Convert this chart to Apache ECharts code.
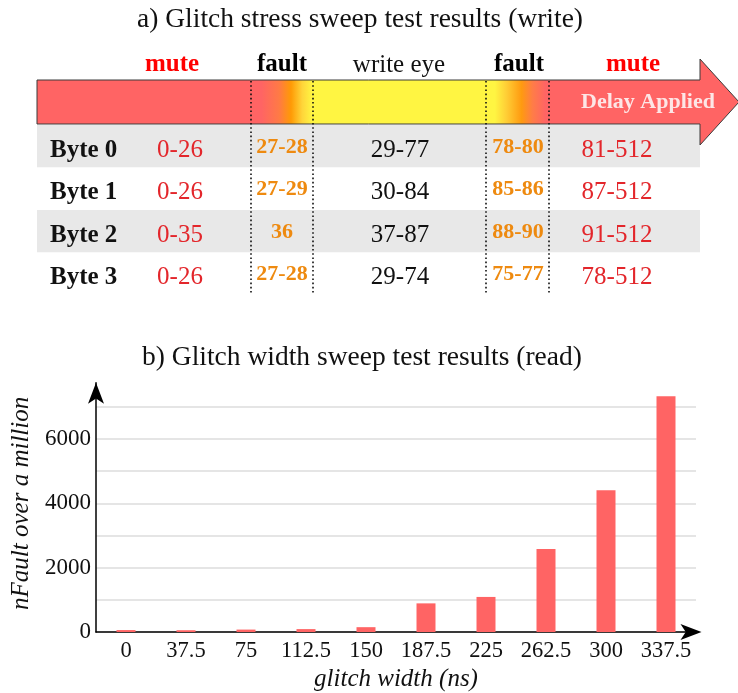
<!DOCTYPE html>
<html>
<head>
<meta charset="utf-8">
<script src="https://cdn.jsdelivr.net/npm/echarts@6/dist/echarts.min.js"></script>
<style>
  html, body { margin: 0; padding: 0; background: #ffffff; }
  #chart { width: 738px; height: 693px; }
</style>
</head>
<body>
<div id="chart"></div>
<script>
// ---- Panel a: write-delay windows per byte lane ----
const bytes      = ['Byte 0', 'Byte 1', 'Byte 2', 'Byte 3'];
const muteLow    = ['0-26', '0-26', '0-35', '0-26'];
const faultLow   = ['27-28', '27-29', '36', '27-28'];
const writeEye   = ['29-77', '30-84', '37-87', '29-74'];
const faultHigh  = ['78-80', '85-86', '88-90', '75-77'];
const muteHigh   = ['81-512', '87-512', '91-512', '78-512'];
const zoneHeaders = ['mute', 'fault', 'write eye', 'fault', 'mute'];

// ---- Panel b: faults per million vs glitch width ----
const glitchWidths = ['0', '37.5', '75', '112.5', '150', '187.5', '225', '262.5', '300', '337.5'];
const nFault       = [60, 55, 75, 90, 150, 890, 1090, 2580, 4410, 7330];
const yTickLabels  = [0, 2000, 4000, 6000];

// ---- layout / style ----
const SERIF = '"Liberation Serif", "Times New Roman", serif';
const RED_CELL = '#e3262b';
const ORANGE = '#ee8a10';
const BAR_RED = '#ff6464';

// column anchors inside the table grid (grid-local pixels)
const COL = { bytes: 13, muteLow: 143, faultLow: 245, writeEye: 363, faultHigh: 481, muteHigh: 580 };
// header centres and dotted separators (page pixels)
const HEADER_X = [172, 282, 399, 519, 633];
const HEADER_STYLE = [
  { fill: '#ff0000', fontWeight: 'bold' },
  { fill: '#000000', fontWeight: 'bold' },
  { fill: '#111111', fontWeight: 'normal' },
  { fill: '#000000', fontWeight: 'bold' },
  { fill: '#ff0000', fontWeight: 'bold' }
];
const DOT_X = [251, 313, 486, 549];

function cellSeries(values, x, color, weight, size, dy, align) {
  return {
    type: 'scatter',
    xAxisIndex: 1,
    yAxisIndex: 1,
    silent: true,
    symbolSize: 1,
    itemStyle: { color: 'rgba(0,0,0,0)', opacity: 1 },
    data: values.map((v, i) => [x, i, v]),
    label: {
      show: true,
      position: 'inside',
      align: align || 'center',
      offset: [0, dy],
      formatter: p => p.value[2],
      fontFamily: SERIF,
      fontSize: size,
      fontWeight: weight,
      color: color,
      opacity: 1
    },
    z: 5
  };
}

const arrowFill = {
  type: 'linear', x: 0, y: 0, x2: 1, y2: 0,
  colorStops: [
    { offset: 0.000, color: '#ff6464' },
    { offset: 0.320, color: '#ff6464' },
    { offset: 0.345, color: '#ff7a45' },
    { offset: 0.362, color: '#ff9a05' },
    { offset: 0.378, color: '#ffd53a' },
    { offset: 0.392, color: '#fff542' },
    { offset: 0.652, color: '#fff542' },
    { offset: 0.668, color: '#ffcf36' },
    { offset: 0.690, color: '#ff9a10' },
    { offset: 0.706, color: '#ff7c48' },
    { offset: 0.724, color: '#ff6464' },
    { offset: 1.000, color: '#ff6464' }
  ]
};

const graphics = [
  {
    type: 'polygon',
    z: 100,
    shape: { points: [[37, 80], [700, 80], [700, 59], [739, 102], [700, 145], [700, 124], [37, 124]] },
    style: { fill: arrowFill, stroke: '#3a3a3a', lineWidth: 1 }
  },
  {
    type: 'text',
    z: 101,
    x: 648, y: 102,
    style: {
      text: 'Delay Applied', fill: '#fde6e6', font: 'bold 22px ' + SERIF,
      textAlign: 'center', textVerticalAlign: 'middle'
    }
  }
];
DOT_X.forEach(x => graphics.push({
  type: 'line', z: 102,
  shape: { x1: x, y1: 81, x2: x, y2: 295 },
  style: { stroke: '#111', lineWidth: 1.6, lineDash: [1.6, 2.6] }
}));
zoneHeaders.forEach((t, i) => graphics.push({
  type: 'text', z: 102,
  x: HEADER_X[i], y: 65,
  style: {
    text: t, fill: HEADER_STYLE[i].fill,
    font: HEADER_STYLE[i].fontWeight + ' 25px ' + SERIF,
    textAlign: 'center', textVerticalAlign: 'middle'
  }
}));

const option = {
  backgroundColor: '#ffffff',
  animation: false,
  title: [
    {
      text: 'a) Glitch stress sweep test results (write)',
      left: 360, textAlign: 'center', top: 6, padding: 0,
      textStyle: { fontFamily: SERIF, fontSize: 27.5, fontWeight: 'normal', color: '#111' }
    },
    {
      text: 'b) Glitch width sweep test results (read)',
      left: 362, textAlign: 'center', top: 344, padding: 0,
      textStyle: { fontFamily: SERIF, fontSize: 27.5, fontWeight: 'normal', color: '#111' }
    }
  ],
  graphic: graphics,
  grid: [
    { left: 96, right: 42, top: 382.7, bottom: 61, containLabel: false },
    { left: 37, right: 38, top: 125, height: 170, containLabel: false }
  ],
  xAxis: [
    {
      type: 'category',
      gridIndex: 0,
      data: glitchWidths,
      boundaryGap: true,
      axisLine: {
        show: true,
        symbol: ['none', 'arrow'],
        symbolSize: [12, 21],
        symbolOffset: [0, 5.5],
        lineStyle: { color: '#000', width: 1.5 }
      },
      axisTick: { show: false },
      axisLabel: { interval: 0, fontFamily: SERIF, fontSize: 22.5, color: '#111', margin: 8 },
      name: 'glitch width (ns)',
      nameLocation: 'middle',
      nameGap: 35,
      nameTextStyle: { fontFamily: SERIF, fontSize: 25, fontStyle: 'italic', color: '#111' }
    },
    { type: 'value', gridIndex: 1, min: 0, max: 663, show: false }
  ],
  yAxis: [
    {
      type: 'value',
      gridIndex: 0,
      min: 0,
      max: 7750,
      interval: 1000,
      axisLine: {
        show: true,
        symbol: ['none', 'arrow'],
        symbolSize: [12, 21],
        lineStyle: { color: '#000', width: 1.5 }
      },
      axisTick: { show: false },
      axisLabel: {
        fontFamily: SERIF, fontSize: 23, color: '#111', margin: 5,
        formatter: v => (yTickLabels.indexOf(v) >= 0 ? String(v) : '')
      },
      splitLine: { show: true, showMaxLine: false, lineStyle: { color: '#dcdcdc', width: 1.5 } },
      name: 'nFault over a million',
      nameLocation: 'middle',
      nameGap: 62,
      nameTextStyle: { fontFamily: SERIF, fontSize: 25, fontStyle: 'italic', color: '#111', padding: [0, 0, 0, 8] }
    },
    {
      type: 'category',
      gridIndex: 1,
      data: bytes,
      inverse: true,
      axisLine: { show: false },
      axisTick: { show: false },
      axisLabel: { show: false },
      splitLine: { show: false },
      splitArea: { show: true, areaStyle: { color: ['#e8e8e8', '#ffffff'] } }
    }
  ],
  series: [
    {
      type: 'bar',
      xAxisIndex: 0,
      yAxisIndex: 0,
      data: nFault,
      barWidth: 19,
      clip: false,
      itemStyle: { color: BAR_RED }
    },
    cellSeries(bytes, COL.bytes, '#111', 'bold', 25, 4, 'left'),
    cellSeries(muteLow, COL.muteLow, RED_CELL, 'normal', 25, 4),
    cellSeries(faultLow, COL.faultLow, ORANGE, 'bold', 22, 1),
    cellSeries(writeEye, COL.writeEye, '#111', 'normal', 25, 4),
    cellSeries(faultHigh, COL.faultHigh, ORANGE, 'bold', 22, 1),
    cellSeries(muteHigh, COL.muteHigh, RED_CELL, 'normal', 25, 4)
  ]
};

const chart = echarts.init(document.getElementById('chart'), null, { renderer: 'canvas' });
chart.setOption(option);
</script>
</body>
</html>
